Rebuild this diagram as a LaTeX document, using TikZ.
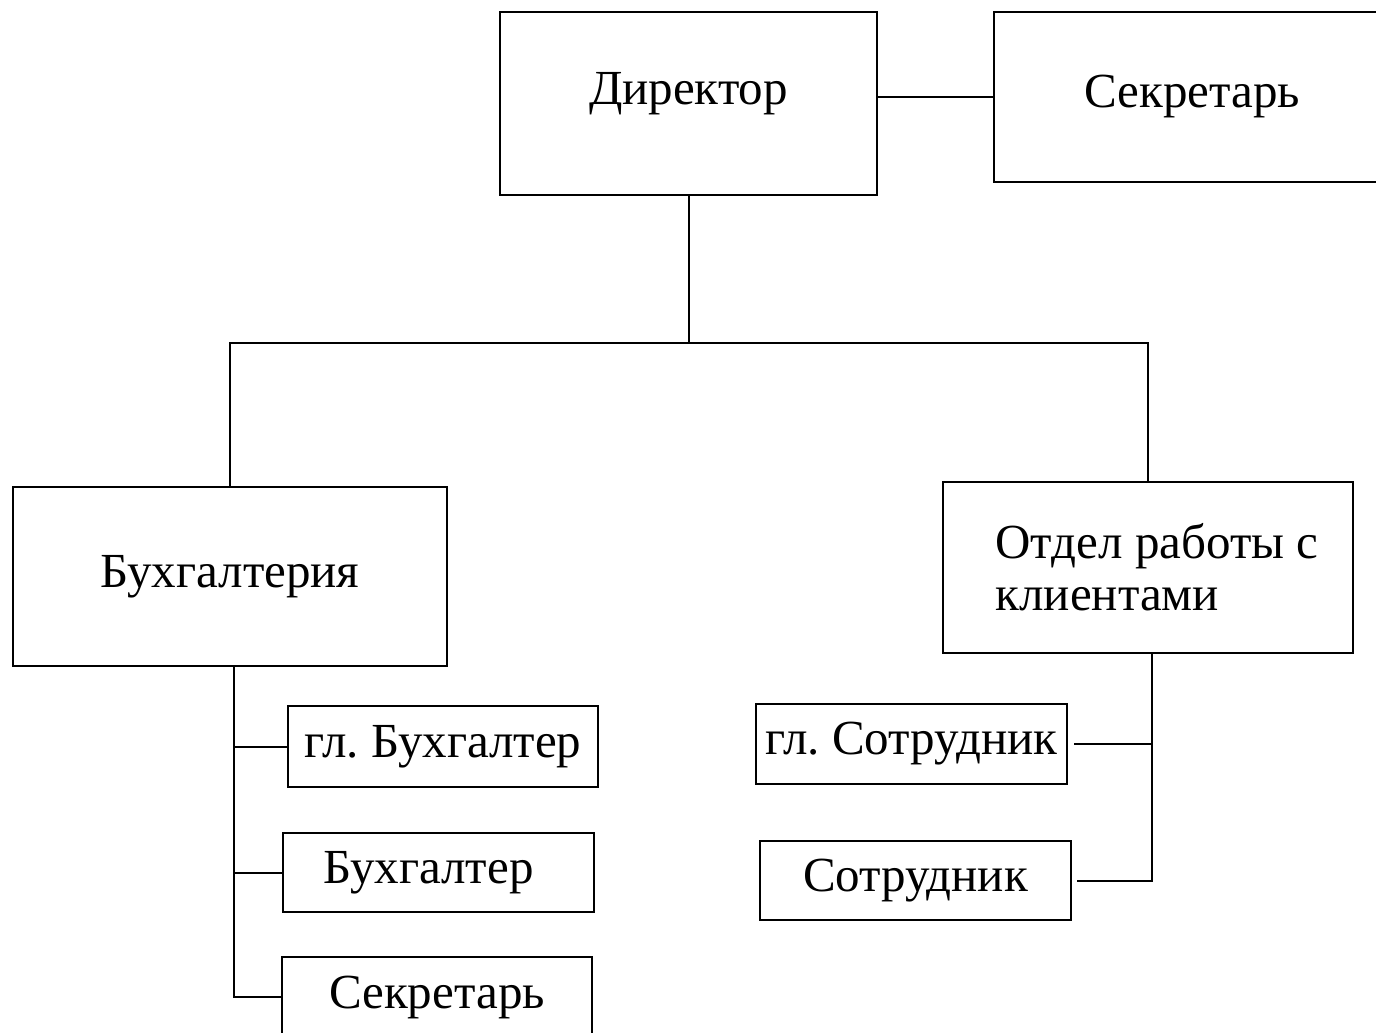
\documentclass[tikz,border=0pt]{standalone}
\usepackage{fontspec}
\setmainfont{Liberation Serif}
\frenchspacing
\begin{document}
\begin{tikzpicture}[x=1pt,y=-1pt,line width=2pt,
    box/.style={draw=black,inner sep=0pt,font=\fontsize{49}{52}\selectfont},
    link/.style={draw=black}]
    \clip (0,0) rectangle (1376,1033);
    \node [box,minimum width=377pt,minimum height=183pt] (dir) at (688.5,103.5) {\raisebox{30pt}{Директор}};
    \node [box,minimum width=396pt,minimum height=170pt] (sec) at (1192,97) {\raisebox{12pt}{Секретарь}};
    \node [box,minimum width=434pt,minimum height=179pt] (buh) at (230,576.5) {\raisebox{7pt}{Бухгалтерия}};
    \node [box,minimum width=410pt,minimum height=171pt,align=left] (otd) at (1148,567.5) {\hspace*{18pt}Отдел работы с\\\hspace*{18pt}клиентами};
    \node [box,minimum width=310pt,minimum height=81pt] (glbuh) at (443,746.5) {гл. Бухгалтер};
    \node [box,minimum width=311pt,minimum height=79pt] (bhg) at (438.5,872.5) {\hspace*{-20pt}Бухгалтер};
    \node [box,minimum width=310pt,minimum height=80pt] (bsec) at (437,997) {Секретарь};
    \node [box,minimum width=311pt,minimum height=80pt] (glsot) at (911.5,744) {гл. Сотрудник};
    \node [box,minimum width=311pt,minimum height=79pt] (sot) at (915.5,880.5) {Сотрудник};
    \coordinate (busL) at (232,343);
    \coordinate (busR) at (1148,343);
    \draw [link] (dir.east |- sec.west) -- (sec.west);
    \draw [link] (dir.south) -- (dir.south |- busL);
    \draw [link] (buh.north) -- (buh.north |- busL) -- (otd.north |- busR) -- (otd.north);
    \draw [link] ([xshift=4pt]buh.south) -- ([xshift=4pt]buh.south |- bsec.west) -- (bsec.west);
    \draw [link] (glbuh.west) -- ([xshift=4pt]glbuh.west -| buh.south);
    \draw [link] (bhg.west) -- ([xshift=4pt]bhg.west -| buh.south);
    \draw [link,shorten >=5pt] ([xshift=4pt]otd.south) -- ([xshift=4pt]otd.south |- sot.east) -- (sot.east);
    \draw [link,shorten <=6pt] (glsot.east) -- ([xshift=4pt]glsot.east -| otd.south);
\end{tikzpicture}
\end{document}
